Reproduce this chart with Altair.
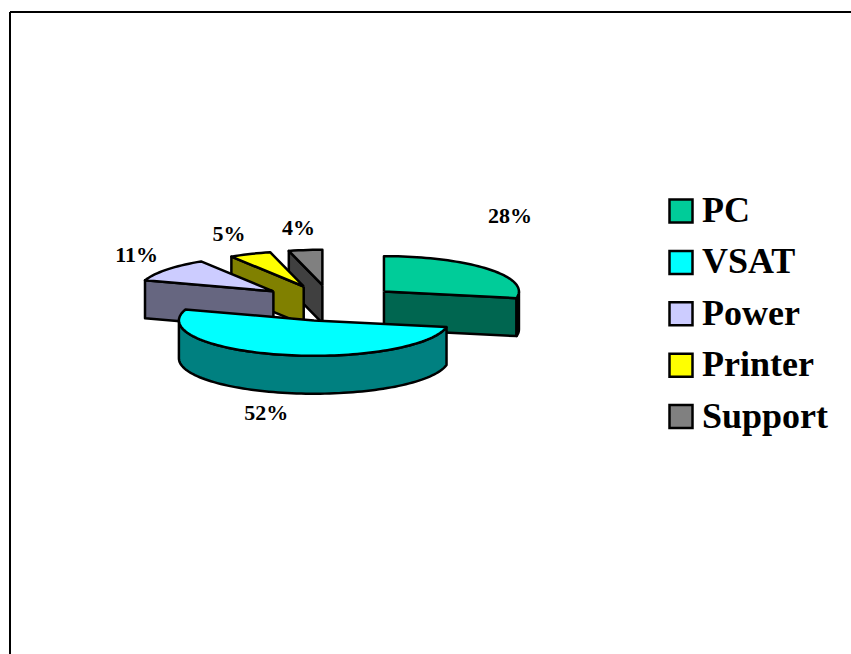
import math
import altair as alt
import pandas as pd

# Equipment shares, in percent
categories = ["PC", "VSAT", "Power", "Printer", "Support"]
shares = [28, 52, 11, 5, 4]
top_colors = ["#00CC99", "#00FFFF", "#CCCCFF", "#FFFF00", "#808080"]
side_colors = ["#006650", "#008080", "#666680", "#808000", "#404040"]

# Pie geometry, in units of one pie radius
PX = 135.0
CENTER_X, CENTER_Y = 331.0, 303.0
TILT = 0.262
DEPTH = 0.281
explode = [0.509, 0.509, 0.54, 0.509, 0.509]
W, H = 851, 654

# Label offsets from the rim at each slice's middle angle, in pixels
label_nudge = [(22, -52.5), (-14, 58.5), (-30, -15), (-21, -20), (-7, -22)]

# Back slices are painted first so the front ones overlap them
paint_order = [4, 3, 2, 0, 1]


def top_point(cx, cy, deg, r=1.0):
    a = math.radians(deg)
    return cx + r * math.sin(a), cy + r * math.cos(a) * TILT


def arc_angles(a0, a1):
    n = max(2, int(abs(a1 - a0) / 2))
    return [a0 + (a1 - a0) * i / n for i in range(n + 1)]


spans = []
start = 0.0
for v in shares:
    end = start + v * 3.6
    spans.append((start, end))
    start = end

rows, polys, labels = [], 0, []


def add_poly(points, fill):
    global polys
    closed = points + [points[0]]
    for k, (x, y) in enumerate(closed):
        rows.append({"poly": f"p{polys:02d}", "k": k, "x": x, "y": y, "fill": fill})
    polys += 1


centers = []
for i, (a0, a1) in enumerate(spans):
    mid = math.radians((a0 + a1) / 2)
    cx = explode[i] * math.sin(mid)
    cy = explode[i] * math.cos(mid) * TILT
    centers.append((cx, cy))
    rim = top_point(cx, cy, (a0 + a1) / 2)
    nx, ny = label_nudge[i]
    labels.append(
        {"x": rim[0] + nx / PX, "y": rim[1] - ny / PX, "text": f"{shares[i]}%"}
    )

for i in paint_order:
    a0, a1 = spans[i]
    cx, cy = centers[i]
    # Radial cut faces that turn toward the viewer
    for edge, visible in (
        (a0, math.sin(math.radians(a0)) < 0),
        (a1, math.sin(math.radians(a1)) > 0),
    ):
        if visible:
            ex, ey = top_point(cx, cy, edge)
            add_poly(
                [(cx, cy), (ex, ey), (ex, ey - DEPTH), (cx, cy - DEPTH)],
                side_colors[i],
            )
    # Outer wall along the front half of the rim
    lo, hi = max(a0, 90.0), min(a1, 270.0)
    if lo < hi:
        upper = [top_point(cx, cy, t) for t in arc_angles(lo, hi)]
        lower = [(x, y - DEPTH) for x, y in reversed(upper)]
        add_poly(upper + lower, side_colors[i])
    # Top surface
    add_poly(
        [(cx, cy)] + [top_point(cx, cy, t) for t in arc_angles(a0, a1)],
        top_colors[i],
    )

x_scale = alt.Scale(domain=[-CENTER_X / PX, (W - CENTER_X) / PX], nice=False, zero=False)
y_scale = alt.Scale(domain=[(CENTER_Y - H) / PX, CENTER_Y / PX], nice=False, zero=False)
x_enc = alt.X("x:Q", scale=x_scale, axis=None)
y_enc = alt.Y("y:Q", scale=y_scale, axis=None)

legend_rows = pd.DataFrame(
    {"name": categories, "x": [c[0] for c in centers], "y": [c[1] for c in centers]}
)

# Tiny points under the slices carry the legend
legend_layer = (
    alt.Chart(legend_rows)
    .mark_square(size=1, filled=True)
    .encode(
        x=x_enc,
        y=y_enc,
        color=alt.Color(
            "name:N",
            scale=alt.Scale(domain=categories, range=top_colors),
            sort=categories,
            legend=alt.Legend(
                title=None,
                orient="none",
                legendX=663,
                legendY=193,
                symbolType="square",
                symbolSize=529,
                symbolStrokeColor="black",
                symbolStrokeWidth=2.5,
                symbolOpacity=1,
                labelFont="Liberation Serif",
                labelFontWeight="bold",
                labelFontSize=36,
                labelColor="black",
                labelOffset=3,
                labelLimit=200,
                rowPadding=15.4,
            ),
        ),
    )
)

slices = (
    alt.Chart(pd.DataFrame(rows))
    .mark_line(stroke="black", strokeWidth=2.5, strokeJoin="round", clip=False)
    .encode(
        x=x_enc,
        y=y_enc,
        order="k:Q",
        detail="poly:N",
        fill=alt.Fill("fill:N", scale=None),
    )
)

percent_labels = (
    alt.Chart(pd.DataFrame(labels))
    .mark_text(font="Liberation Serif", fontWeight="bold", fontSize=22, color="black")
    .encode(x=x_enc, y=y_enc, text="text:N")
)

frame_left = alt.Chart(pd.DataFrame({"v": [0]})).mark_rule(color="black", strokeWidth=2).encode(
    x=alt.value(10), y=alt.value(12), y2=alt.value(H)
)
frame_top = alt.Chart(pd.DataFrame({"v": [0]})).mark_rule(color="black", strokeWidth=2).encode(
    x=alt.value(10), x2=alt.value(W), y=alt.value(12)
)

chart = (
    alt.layer(frame_left, frame_top, legend_layer, slices, percent_labels)
    .properties(width=W, height=H, padding=0, autosize="none", background="white")
    .configure_view(stroke=None)
)

chart.save("out.html", embed_options={"renderer": "svg", "actions": False})
